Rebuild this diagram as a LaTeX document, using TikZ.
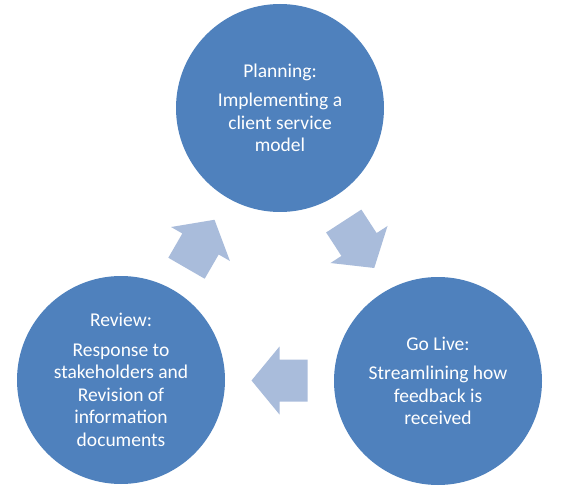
\documentclass[tikz,border=0pt]{standalone}
\usepackage{fontspec}
\setmainfont{Carlito}
\usetikzlibrary{calc}

\definecolor{phaseBlue}{HTML}{4F81BD}
\definecolor{arrowBlue}{HTML}{A9BCDB}

\tikzset{
    phase/.style={
        circle, fill=phaseBlue, minimum size=208pt, inner sep=0pt,
        text=white, align=center, font=\fontsize{19.5}{22.5}\selectfont,
    },
    flowarrow/.pic={
        \fill[arrowBlue] (-28,-21) -- (0,-21) -- (0,-34) -- (28,0)
            -- (0,34) -- (0,21) -- (-28,21) -- cycle;
    },
}

\begin{document}
\begin{tikzpicture}[x=1pt, y=1pt]
\useasboundingbox (0,0) rectangle (562,488);

\node[phase] (planning) at (280,380) {Planning:\\[7pt]Implementing a\\client service\\model};
\node[phase] (golive) at (438,107) {Go Live:\\[7pt]Streamlining how\\feedback is\\received};
\node[phase] (review) at (121,108) {Review:\\[7pt]Response to\\stakeholders and\\Revision of\\information\\documents};

% block arrows sit halfway between the phases
\coordinate (toPlanning) at ($(review)!0.5!(planning)$);
\coordinate (toGoLive) at ($(planning)!0.5!(golive)$);
\coordinate (toReview) at ($(golive)!0.5!(review)$);

\pic[rotate=60] at (toPlanning) {flowarrow};
\pic[rotate=-57] at (toGoLive) {flowarrow};
\pic[rotate=180] at (toReview) {flowarrow};

\end{tikzpicture}
\end{document}
